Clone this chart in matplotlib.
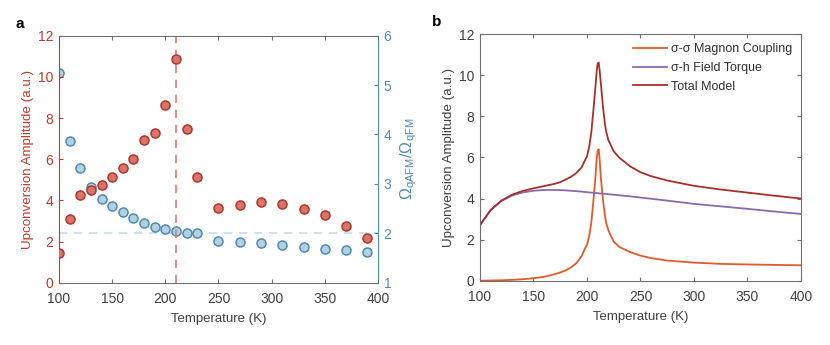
import numpy as np
import matplotlib
matplotlib.use('Agg')
import matplotlib.pyplot as plt

plt.rcParams['font.family'] = ['Liberation Sans', 'DejaVu Sans']
plt.rcParams['mathtext.fontset'] = 'custom'
plt.rcParams['mathtext.rm'] = 'Liberation Sans'
plt.rcParams['mathtext.it'] = 'Liberation Sans:italic'

# --- panel a: measured data ---
temp_a = [100, 110, 120, 130, 140, 150, 160, 170, 180, 190, 200, 210, 220,
          230, 250, 270, 290, 310, 330, 350, 370, 390]
amplitude = [1.43, 3.09, 4.26, 4.49, 4.76, 5.13, 5.59, 5.99, 6.93, 7.29, 8.63,
             10.87, 7.45, 5.13, 3.61, 3.77, 3.90, 3.81, 3.56, 3.29, 2.75, 2.17]
ratio = [5.24, 3.86, 3.33, 2.94, 2.70, 2.56, 2.43, 2.30, 2.21, 2.13, 2.09,
         2.05, 2.00, 2.00, 1.85, 1.82, 1.80, 1.76, 1.72, 1.69, 1.66, 1.62]
t_peak = 210
ratio_ref = 2

# --- panel b: model curves ---
temp_b = [100, 110, 120, 130, 140, 150, 160, 170, 175, 180, 185, 190, 195, 198,
          200, 202, 204, 206, 207, 208, 209, 210, 211, 212, 213, 215, 217, 218,
          220, 225, 230, 240, 250, 260, 275, 300, 325, 350, 375, 400]
magnon = [0.00, 0.01, 0.02, 0.04, 0.07, 0.12, 0.19, 0.32, 0.40, 0.50, 0.65,
          0.85, 1.20, 1.55, 1.75, 2.15, 2.80, 3.90, 4.50, 5.10, 5.90, 6.35,
          6.40, 5.80, 5.00, 3.90, 3.10, 2.80, 2.45, 1.90, 1.65, 1.40, 1.22,
          1.10, 0.98, 0.88, 0.82, 0.79, 0.77, 0.75]
torque = [2.70, 3.44, 3.88, 4.15, 4.30, 4.38, 4.42, 4.42, 4.41, 4.40, 4.38,
          4.36, 4.34, 4.32, 4.31, 4.30, 4.29, 4.28, 4.275, 4.27, 4.265, 4.26,
          4.255, 4.25, 4.245, 4.24, 4.23, 4.225, 4.21, 4.19, 4.16, 4.11, 4.05,
          3.99, 3.90, 3.74, 3.62, 3.50, 3.37, 3.25]
total = [2.70, 3.45, 3.90, 4.19, 4.37, 4.50, 4.61, 4.72, 4.80, 4.92, 5.06,
         5.24, 5.52, 5.85, 6.05, 6.50, 7.20, 8.30, 8.90, 9.50, 10.15, 10.58,
         10.62, 10.15, 9.60, 8.45, 7.55, 7.25, 6.85, 6.30, 6.00, 5.58, 5.28,
         5.09, 4.88, 4.62, 4.44, 4.29, 4.14, 4.00]

RED = '#c0392b'
BLUE = '#4f8ab5'
GRAY = '#404040'
SPINE = '#707070'

fig = plt.figure(figsize=(8.3, 3.45), dpi=100)

# panel a
ax = fig.add_axes([0.0711, 0.1806, 0.3843, 0.716])
ax2 = ax.twinx()
ax.set_zorder(ax2.get_zorder() + 1)
ax.patch.set_visible(False)

ax2.axhline(ratio_ref, color='#c6dce8', ls=(0, (5, 4)), lw=1.2, zorder=1)
ax2.plot(temp_a, ratio, 'o', ms=6.5, mfc='#b3d2e0', mec=BLUE, mew=1.1, zorder=3)
ax.axvline(t_peak, color='#e07a70', ls=(0, (5, 4)), lw=1.2, zorder=1)
ax.plot(temp_a, amplitude, 'o', ms=6.5, mfc='#d9746b', mec='#b0362c', mew=1.1, zorder=3)

ax.set_xlim(100, 400)
ax.set_ylim(0, 12)
ax2.set_ylim(1, 6)
ax.set_xticks(np.arange(100, 401, 50))
ax.set_yticks(np.arange(0, 13, 2))
ax2.set_yticks(np.arange(1, 7, 1))

for s in ['top', 'bottom']:
    ax.spines[s].set_color(SPINE)
ax.spines['left'].set_color(RED)
ax.spines['right'].set_visible(False)
for s in ['top', 'bottom', 'left']:
    ax2.spines[s].set_visible(False)
ax2.spines['right'].set_color(BLUE)

ax.tick_params(axis='x', direction='in', length=3, colors=SPINE, labelcolor=GRAY,
               labelsize=10, top=True, pad=7)
ax.tick_params(axis='y', direction='in', length=3, colors=RED, labelsize=10, pad=4)
ax2.tick_params(axis='y', direction='in', length=3, colors=BLUE, labelsize=10, pad=4)
ax.set_xlabel('Temperature (K)', fontsize=9.5, color=GRAY, labelpad=5)
ax.set_ylabel('Upconversion Amplitude (a.u.)', fontsize=9.6, color=RED, labelpad=3)
ax2.set_ylabel(r'$\mathit{\Omega}_{\mathrm{qAFM}}/\mathit{\Omega}_{\mathrm{qFM}}$',
               fontsize=11.5, color=BLUE, labelpad=5)

# panel b
bx = fig.add_axes([0.5783, 0.1864, 0.3867, 0.7142])
bx.plot(temp_b, magnon, color='#e35a2b', lw=1.3, label='σ-σ Magnon Coupling')
bx.plot(temp_b, torque, color='#8a6aae', lw=1.3, label='σ-h Field Torque')
bx.plot(temp_b, total, color='#a9302a', lw=1.3, label='Total Model')
bx.set_xlim(100, 400)
bx.set_ylim(0, 12)
bx.set_xticks(np.arange(100, 401, 50))
bx.set_yticks(np.arange(0, 13, 2))
for s in bx.spines.values():
    s.set_color(SPINE)
bx.tick_params(direction='in', length=3, colors=SPINE, labelcolor=GRAY,
               labelsize=10, top=True, right=True)
bx.tick_params(axis='x', pad=7)
bx.tick_params(axis='y', pad=4)
bx.set_xlabel('Temperature (K)', fontsize=9.5, color=GRAY, labelpad=5)
bx.set_ylabel('Upconversion Amplitude (a.u.)', fontsize=9.6, color=GRAY, labelpad=3)
leg = bx.legend(loc='upper right', frameon=False, fontsize=9, handlelength=2.7,
                handletextpad=0.3, labelspacing=0.55, borderaxespad=0.3)
for t in leg.get_texts():
    t.set_color('#303030')

fig.text(0.019, 0.93, 'a', fontsize=11, fontweight='bold', va='center')
fig.text(0.521, 0.935, 'b', fontsize=11, fontweight='bold', va='center')

fig.savefig('out.png', dpi=100)
